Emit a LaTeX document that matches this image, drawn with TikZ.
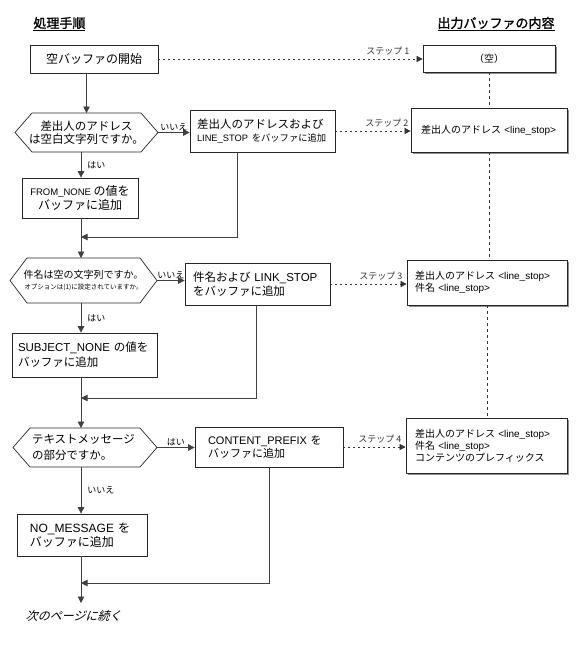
\documentclass[tikz,border=0pt]{standalone}
\usepackage{fontspec}
\setmainfont{Noto Sans CJK JP}
\newfontfamily\lat{Liberation Sans}
\newfontfamily\jpbf{Noto Sans CJK JP}[FakeBold=1.5]
\newfontfamily\jpit{Noto Sans CJK JP}[FakeSlant=0.3]
\usetikzlibrary{arrows.meta,shadows}
% hexagon round a decision node: #1 node, #2 depth of the points
\newcommand\hexa[2]{\draw[line width=.7pt,black!85] (#1.west) -- ([xshift=#2pt]#1.north west)
  -- ([xshift=-#2pt]#1.north east) -- (#1.east) -- ([xshift=-#2pt]#1.south east)
  -- ([xshift=#2pt]#1.south west) -- cycle;}
\begin{document}
\begin{tikzpicture}
  [x=1pt,y=-1pt,every node/.style={font=\fontsize{11.5}{13.5}\selectfont}]
  \tikzstyle{box} = [draw=black!85,line width=.7pt,rectangle,inner ysep=0pt,align=left,fill=white]
  \tikzstyle{decision} = [rectangle,inner sep=0pt,outer sep=0pt,align=center]
  \tikzstyle{outbox} = [box,font=\fontsize{10}{12}\selectfont,
    drop shadow={shadow xshift=1.5pt,shadow yshift=-1.5pt,fill=black!45,opacity=1}]
  \tikzstyle{flow} = [draw=black!75,line width=.7pt,-{Triangle[length=6.5pt,width=6.5pt]}]
  \tikzstyle{stepline} = [black!80,line width=.6pt,dash pattern=on 2pt off 3pt,-{Triangle[length=6pt,width=6pt]}]
  \tikzstyle{link} = [black!80,line width=.6pt,dash pattern=on 3pt off 3pt]
  \tikzstyle{lbl} = [font=\fontsize{9}{10}\selectfont,inner sep=1pt]
  \tikzstyle{title} = [font=\jpbf\fontsize{13}{15}\selectfont]
  \useasboundingbox (0,0) rectangle (585,657);

  \node[title] (ttl1) at (59.5,24) {\underline{処理手順}};
  \node[title] (ttl2) at (496,24) {\underline{出力バッファの内容}};

  % left column
  \node[box,align=center,minimum width=128pt,minimum height=28pt,font=\fontsize{12}{14}\selectfont]
    (start) at (94,59) {空バッファの開始};
  \node[decision,minimum width=143pt,minimum height=39pt,font=\fontsize{11.5}{12.5}\selectfont]
    (q1) at (86.5,132.5) {差出人のアドレス\\は空白文字列ですか。};
  \node[box,align=center,minimum width=116pt,minimum height=40pt,font=\fontsize{12}{14}\selectfont]
    (fromnone) at (80,198) {{\lat\fontsize{9.5}{11}\selectfont FROM\_NONE} の値を\\バッファに追加};
  \node[decision,minimum width=147pt,minimum height=45pt,font=\fontsize{10}{11}\selectfont]
    (q2) at (83.5,280.5) {件名は空の文字列ですか。\\{\fontsize{6.5}{8}\selectfont オプションは(1)に設定されていますか。}};
  \node[box,text width=133pt,inner xsep=6pt,minimum height=44pt,font=\fontsize{11.5}{15}\selectfont]
    (subjnone) at (84.5,355) {{\lat SUBJECT\_NONE} の値を\\バッファに追加};
  \node[decision,minimum width=144pt,minimum height=39pt,text width=106pt,align=left,font=\fontsize{11.5}{15.5}\selectfont]
    (q3) at (85,447.5) {テキストメッセージ\\の部分ですか。};
  \node[box,text width=104pt,inner xsep=13pt,minimum height=42pt,font=\fontsize{12}{13.5}\selectfont]
    (nomsg) at (82,535) {{\lat NO\_MESSAGE} を\\バッファに追加};
  \node[anchor=north,inner ysep=7pt,font=\jpit\fontsize{12}{14}\selectfont] (cont) at (73.5,603) {次のページに続く};

  % middle column
  \node[box,text width=131pt,inner xsep=7pt,minimum height=42pt]
    (addfrom) at (262.5,131) {差出人のアドレスおよび\\{\fontsize{9.3}{11}\selectfont{\lat LINE\_STOP} をバッファに追加}};
  \node[box,text width=129pt,inner xsep=8pt,minimum height=42pt,font=\fontsize{11.5}{14}\selectfont]
    (addsubj) at (257.5,284) {件名および {\lat LINK\_STOP}\\をバッファに追加};
  \node[box,text width=122pt,inner xsep=13pt,minimum height=40pt,font=\fontsize{11}{13}\selectfont]
    (addpre) at (269,447) {{\lat CONTENT\_PREFIX} を\\バッファに追加};

  % buffer contents
  \node[outbox,align=center,minimum width=132pt,minimum height=27pt,font=\fontsize{10}{12}\selectfont]
    (buf0) at (489,58.5) {（空）};
  \node[outbox,text width=136pt,inner xsep=10pt,minimum height=44pt]
    (buf1) at (489,130) {差出人のアドレス {\lat <line\_stop>}};
  \node[outbox,text width=144pt,inner xsep=8pt,minimum height=45pt]
    (buf2) at (487,282.5) {差出人のアドレス {\lat <line\_stop>}\\件名 {\lat <line\_stop>}};
  \node[outbox,text width=143pt,inner xsep=9pt,minimum height=55pt]
    (buf3) at (486.5,445.5) {差出人のアドレス {\lat <line\_stop>}\\件名 {\lat <line\_stop>}\\コンテンツのプレフィックス};

  \foreach \q/\d in {q1/17,q2/17,q3/17} {\hexa{\q}{\d}}

  \coordinate (col) at (81,0);
  \coordinate (j1) at (81,237);
  \coordinate (j2) at (81,398);
  \coordinate (j3) at (81,583);

  \draw[flow] (q1.north |- start.south) -- (q1.north);
  \draw[flow] (col |- q1.south) -- node[lbl,right=5pt] {はい} (col |- fromnone.north);
  \draw[flow] (col |- q2.south) -- node[lbl,right=5pt] {はい} (col |- subjnone.north);
  \draw[flow] (col |- q3.south) -- node[lbl,right=5pt] {いいえ} (col |- nomsg.north);
  \foreach \source/\dest in {fromnone/q2,subjnone/q3,nomsg/cont}
    \draw[flow] (col |- \source.south) -- (col |- \dest.north);

  \draw[flow] (q1.east) -- node[lbl,above] {いいえ} (q1.east -| addfrom.west);
  \draw[flow] (q2.east) -- node[lbl,above] {いいえ} (q2.east -| addsubj.west);
  \draw[flow] (q3.east) -- node[lbl,above] {はい} (q3.east -| addpre.west);

  \draw[flow] ([xshift=48pt]addfrom.south west) |- (j1);
  \draw[flow] ([xshift=72pt]addsubj.south west) |- (j2);
  \draw[flow] ([xshift=75pt]addpre.south west) |- (j3);

  \foreach \source/\dest/\num/\dx in {start/buf0/1/-12,addfrom/buf1/2/-1,addsubj/buf2/3/-3,addpre/buf3/4/-3}
    \draw[stepline] (\source.east) -- node[lbl,pos=1,above left,xshift=\dx pt,yshift=3pt] {ステップ \num} (\source.east -| \dest.west);
  \foreach \source/\dest in {buf0/buf1,buf1/buf2,buf2/buf3}
    \draw[link] (\source.south) -- (\source.south |- \dest.north);
\end{tikzpicture}
\end{document}
